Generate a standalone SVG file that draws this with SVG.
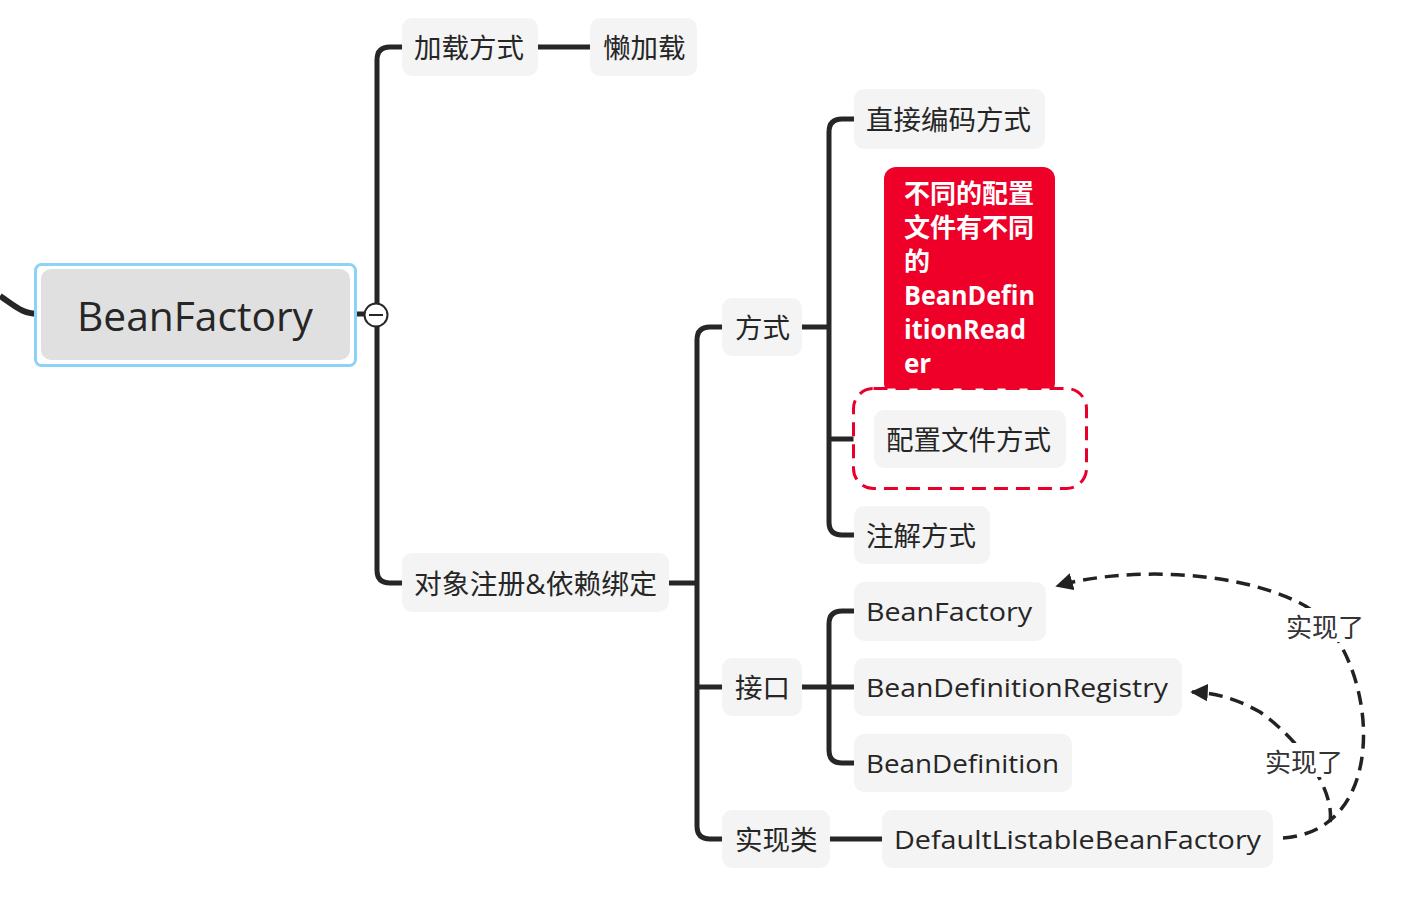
<svg xmlns="http://www.w3.org/2000/svg" width="1412" height="916" viewBox="0 0 1412 916">
<style>
.ln{fill:none;stroke:#262626;stroke-width:5;stroke-linecap:butt;stroke-linejoin:round}
.nd{fill:#f4f4f4}
.t{font-family:"Open Sans","Noto Sans CJK SC",sans-serif;font-size:27.5px;fill:#262626;dominant-baseline:central;font-variant-ligatures:none}
.e{font-size:26px}
.rt{font-family:"Open Sans","Noto Sans CJK SC",sans-serif;font-size:26px;font-weight:bold;fill:#fff;font-variant-ligatures:none}
.rel{fill:none;stroke:#222;stroke-width:3.5;stroke-dasharray:14 8}
.lb{font-family:"Noto Sans CJK SC",sans-serif;font-size:26px;fill:#333;text-anchor:middle;dominant-baseline:central}
</style>
<defs>
<marker id="ah" viewBox="0 0 10 10" refX="9" refY="5" markerWidth="5" markerHeight="5" orient="auto" markerUnits="strokeWidth">
<path d="M0,0 L10,5 L0,10 Z" fill="#222"/>
</marker>
</defs>
<g id="connectors">
<path class="ln" d="M0,296 C15,306 22,314 40,314" style="stroke-width:6"/>
<path class="ln" d="M350,314 L365,314"/>
<path class="ln" d="M402,47 L390,47 Q377,47 377,60 L377,570 Q377,583 390,583 L402,583"/>
<path class="ln" d="M538,47 L590,47"/>
<path class="ln" d="M669,583 L697,583"/>
<path class="ln" d="M722,327 L710,327 Q697,327 697,340 L697,826 Q697,839 710,839 L722,839"/>
<path class="ln" d="M697,687 L722,687"/>
<path class="ln" d="M802,327 L829,327"/>
<path class="ln" d="M854,119 L842,119 Q829,119 829,132 L829,522 Q829,535 842,535 L854,535"/>
<path class="ln" d="M829,439 L874,439"/>
<path class="ln" d="M802,687 L854,687"/>
<path class="ln" d="M854,611 L842,611 Q829,611 829,624 L829,750 Q829,763 842,763 L854,763"/>
<path class="ln" d="M830,839 L882,839"/>
<path class="rel" d="M1283,838 C1400,830 1375,640 1300,603 C1230,568 1120,568 1057,586" marker-end="url(#ah)"/>
<path class="rel" d="M1330,822 C1335,790 1300,740 1260,712 C1235,698 1215,693 1192,692" marker-end="url(#ah)"/>
</g>
<g id="root">
<rect x="35.5" y="264.5" width="320" height="101" rx="6" fill="#fff" stroke="#8dd3f7" stroke-width="3"/>
<rect x="41" y="269" width="309" height="91" rx="10" fill="#e0e0e0"/>
<text x="77" y="315" class="t" style="font-size:40px" textLength="236" lengthAdjust="spacingAndGlyphs">BeanFactory</text>
<circle cx="376" cy="315" r="11.5" fill="#fff" stroke="#262626" stroke-width="2"/>
<line x1="369" y1="315" x2="383" y2="315" stroke="#262626" stroke-width="2"/>
</g>
<g id="n-jiazai"><rect class="nd" x="402" y="18" width="136" height="58" rx="10"/><text class="t" x="414" y="47">加载方式</text></g>
<g id="n-lan"><rect class="nd" x="590" y="18" width="107" height="58" rx="10"/><text class="t" x="603" y="47">懒加载</text></g>
<g id="n-duixiang"><rect class="nd" x="402" y="553" width="267" height="59" rx="10"/><text class="t" x="414" y="583" textLength="243" lengthAdjust="spacingAndGlyphs">对象注册&amp;依赖绑定</text></g>
<g id="n-fangshi"><rect class="nd" x="722" y="298" width="80" height="58" rx="10"/><text class="t" x="735" y="327">方式</text></g>
<g id="n-jiekou"><rect class="nd" x="722" y="658" width="80" height="58" rx="10"/><text class="t" x="735" y="687">接口</text></g>
<g id="n-shixian"><rect class="nd" x="722" y="810" width="108" height="58" rx="10"/><text class="t" x="735" y="839">实现类</text></g>
<g id="n-zhijie"><rect class="nd" x="854" y="89" width="191" height="60" rx="10"/><text class="t" x="866" y="119">直接编码方式</text></g>
<g id="n-callout">
<rect x="884" y="167" width="171" height="228" rx="12" fill="#ee0028"/>
<text class="rt" x="904" y="203">不同的配置</text>
<text class="rt" x="904" y="237">文件有不同</text>
<text class="rt" x="904" y="271">的</text>
<text class="rt" x="904" y="305" textLength="131" lengthAdjust="spacingAndGlyphs">BeanDefin</text>
<text class="rt" x="904" y="339" textLength="122" lengthAdjust="spacingAndGlyphs">itionRead</text>
<text class="rt" x="904" y="373">er</text>
</g>
<g id="n-peizhi">
<rect x="853.5" y="388.5" width="233" height="100" rx="20" fill="#fff" stroke="#e8002a" stroke-width="3" stroke-dasharray="14 8"/>
<rect class="nd" x="874" y="410" width="192" height="58" rx="10"/><text class="t" x="886" y="439">配置文件方式</text>
</g>
<g id="n-zhujie"><rect class="nd" x="854" y="506" width="136" height="58" rx="10"/><text class="t" x="866" y="535">注解方式</text></g>
<g id="n-bf"><rect class="nd" x="854" y="582" width="192" height="59" rx="10"/><text class="t e" x="866" y="611" textLength="166" lengthAdjust="spacingAndGlyphs">BeanFactory</text></g>
<g id="n-bdr"><rect class="nd" x="854" y="658" width="328" height="58" rx="10"/><text class="t e" x="866" y="687" textLength="302" lengthAdjust="spacingAndGlyphs">BeanDefinitionRegistry</text></g>
<g id="n-bd"><rect class="nd" x="854" y="734" width="218" height="58" rx="10"/><text class="t e" x="866" y="763" textLength="193" lengthAdjust="spacingAndGlyphs">BeanDefinition</text></g>
<g id="n-dlbf"><rect class="nd" x="882" y="810" width="391" height="58" rx="10"/><text class="t e" x="894" y="839" textLength="367" lengthAdjust="spacingAndGlyphs">DefaultListableBeanFactory</text></g>
<g id="labels">
<rect x="1282" y="608" width="86" height="34" fill="#fff"/>
<text class="lb" x="1325" y="625">实现了</text>
<rect x="1261" y="743" width="86" height="34" fill="#fff"/>
<text class="lb" x="1304" y="760">实现了</text>
</g>
</svg>
